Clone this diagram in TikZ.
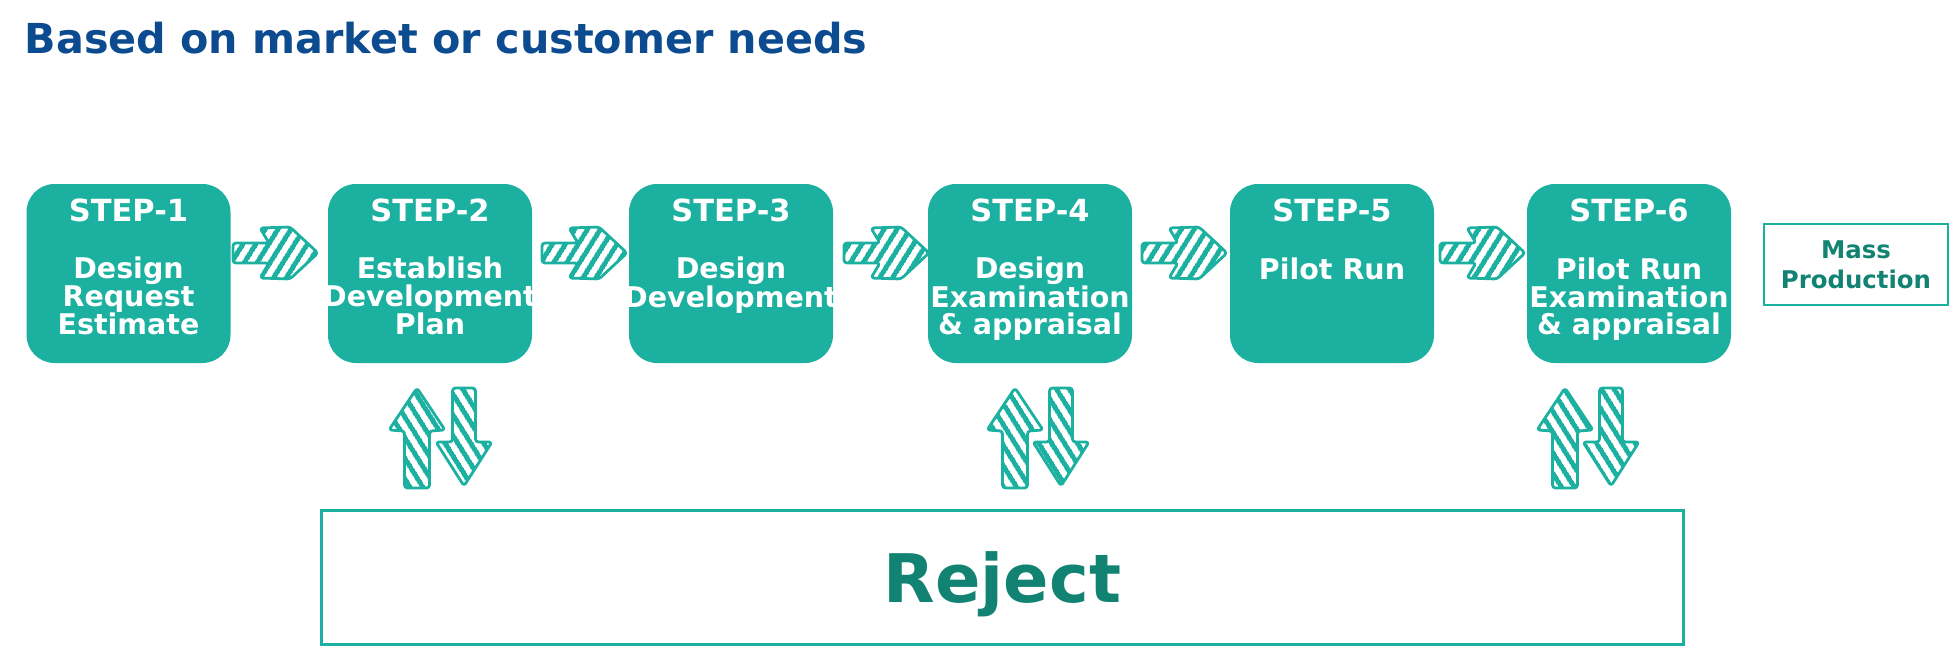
\documentclass[tikz,border=0pt]{standalone}
\usepackage{fontspec}
\setmainfont{DejaVu Sans}
\usetikzlibrary{patterns.meta,calc}
\definecolor{tealbox}{RGB}{27,176,160}
\definecolor{titleblue}{RGB}{12,75,143}
\definecolor{darkteal}{RGB}{18,131,115}
\begin{document}
\begin{tikzpicture}[x=1pt,y=-1pt,
  stepbox/.style={fill=tealbox, rounded corners=28pt, minimum width=204pt, minimum height=179pt, inner sep=0pt},
  steplabel/.style={text=white, font=\fontsize{28.5}{27.5}\selectfont\bfseries, inner sep=0pt, align=center},
  stepnum/.style={steplabel, font=\fontsize{30.5}{30}\selectfont\bfseries},
  hatch/.style={draw=tealbox, line width=2.8pt, line join=round, rounded corners=3pt,
    pattern={Lines[angle=#1,distance=10.5pt,line width=5pt]}, pattern color=tealbox},
  harrow/.pic={\path[hatch=58] (0,-10) -- (36,-10) -- (27,-25) -- (57,-26) -- (85,0) -- (57,26) -- (27,25) -- (36,10) -- (0,10) -- cycle;},
  uparrow/.pic={\path[hatch=122] (0,0) -- (28,42) -- (12.5,43) -- (12.5,100) -- (-12.5,100) -- (-12.5,43) -- (-28,42) -- cycle;},
  downarrow/.pic={\path[hatch=122] (-11.5,0) -- (11.5,0) -- (11.5,54) -- (28,54) -- (0,98) -- (-28,54) -- (-11.5,54) -- cycle;}
]
\useasboundingbox (0,0) rectangle (1951,658);

\node[anchor=base west, inner sep=0pt, text=titleblue, font=\fontsize{41.3}{48}\selectfont\bfseries] (title) at (24.5,54) {Based on market or customer needs};

\node[stepbox] (s1) at (128.5,273.5) {};
\node[stepbox] (s2) at (430,273.5) {};
\node[stepbox] (s3) at (731,273.5) {};
\node[stepbox] (s4) at (1030,273.5) {};
\node[stepbox] (s5) at (1332,273.5) {};
\node[stepbox] (s6) at (1629,273.5) {};

\node[stepnum, anchor=base] (t1) at ($(s1.north)+(0,38)$) {STEP-1};
\node[stepnum, anchor=base] (t2) at ($(s2.north)+(0,38)$) {STEP-2};
\node[stepnum, anchor=base] (t3) at ($(s3.north)+(0,38)$) {STEP-3};
\node[stepnum, anchor=base] (t4) at ($(s4.north)+(0,38)$) {STEP-4};
\node[stepnum, anchor=base] (t5) at ($(s5.north)+(0,38)$) {STEP-5};
\node[stepnum, anchor=base] (t6) at ($(s6.north)+(0,38)$) {STEP-6};

% base anchor = baseline of the last line
\node[steplabel, anchor=base] (b1) at ($(s1.north)+(0,151)$) {Design\\Request\\Estimate};
\node[steplabel, anchor=base] (b2) at ($(s2.north)+(0,151)$) {Establish\\Development\\Plan};
\node[steplabel, anchor=base] (b3) at ($(s3.north)+(0,123.5)$) {Design\\Development};
\node[steplabel, anchor=base] (b4) at ($(s4.north)+(0,151)$) {Design\\Examination\\\& appraisal};
\node[steplabel, anchor=base] (b5) at ($(s5.north)+(0,96)$) {Pilot Run};
\node[steplabel, anchor=base] (b6) at ($(s6.north)+(0,151)$) {Pilot Run\\Examination\\\& appraisal};

\pic at (233,253) {harrow};
\pic at (542,253) {harrow};
\pic at (844,253) {harrow};
\pic at (1142,253) {harrow};
\pic at (1440,253) {harrow};

\pic at (417,388) {uparrow};
\pic at (464,388) {downarrow};
\pic at (1015,388) {uparrow};
\pic at (1061,388) {downarrow};
\pic at (1565,388) {uparrow};
\pic at (1611,388) {downarrow};

\node[draw=tealbox, line width=2.5pt, minimum width=184pt, minimum height=81pt, inner sep=0pt, text=darkteal, font=\fontsize{24.4}{30}\selectfont\bfseries, align=center] (mass) at (1856,264.5) {Mass\\Production};

\node[draw=tealbox, line width=3pt, minimum width=1362pt, minimum height=134pt, inner sep=0pt, text=darkteal, font=\fontsize{67}{67}\selectfont\bfseries, text depth=0pt] (reject) at (1002.5,577.5) {Reject};
\end{tikzpicture}
\end{document}
